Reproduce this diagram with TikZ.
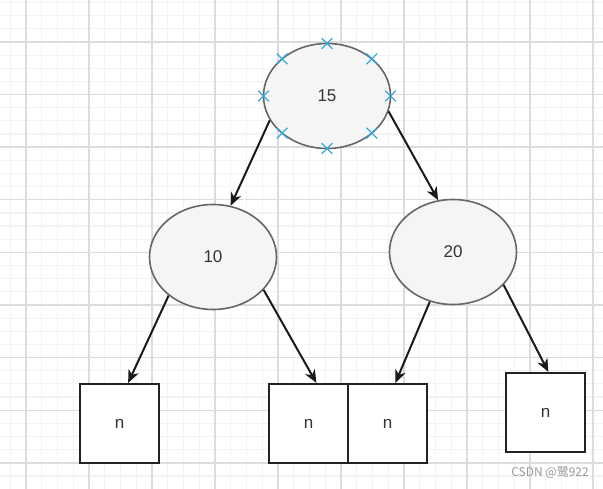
\documentclass[tikz,border=0pt]{standalone}
\usepackage{fontspec}
\setmainfont{Liberation Sans}
\newfontfamily\cjk{Noto Sans CJK SC}
\usepackage{xcolor}
\usetikzlibrary{shapes.geometric, shapes.misc, arrows.meta, positioning}

\definecolor{nodefill}{HTML}{F5F5F5}
\definecolor{nodeline}{HTML}{666666}
\definecolor{boxline}{HTML}{222222}
\definecolor{arrowline}{HTML}{1A1A1A}
\definecolor{textgray}{HTML}{333333}
\definecolor{markblue}{HTML}{3AA8E0}
\definecolor{gridminor}{HTML}{F3F3F3}
\definecolor{gridmajor}{HTML}{DCDCDC}
\definecolor{wmgray}{HTML}{9A9A9A}

\begin{document}
\begin{tikzpicture}[
    x=1pt, y=-1pt,
    treenode/.style={ellipse, draw=nodeline, fill=nodefill, line width=1.6pt, minimum width=127pt, minimum height=105pt, inner sep=0pt, text=textgray, font=\fontsize{17}{20}\selectfont},
    nilbox/.style={rectangle, draw=boxline, fill=white, line width=2.2pt, minimum size=79pt, inner sep=0pt, text=textgray, font=\fontsize{17}{20}\selectfont},
    arrow/.style={line width=2pt, draw=arrowline, -{Stealth[length=13pt, width=11pt, inset=4pt]}},
    xmark/.style={cross out, draw=markblue, line width=1.2pt, minimum size=9.5pt, inner sep=0pt},
    minorline/.style={draw=gridminor, line width=1.2pt},
    majorline/.style={draw=gridmajor, line width=1.4pt}
]
\useasboundingbox (0,0) rectangle (603,489);

% Background grid
\fill[white] (0,0) rectangle (603,489);
\foreach \i in {0,...,38} \draw[minorline] ({-5.5+15.75*\i},0) -- ++(0,489);
\foreach \i in {0,...,38} \draw[minorline] (0,{-10.6+13.15*\i}) -- ++(603,0);
\foreach \i in {0,...,9} \draw[majorline] ({26+63*\i},0) -- ++(0,489);
\foreach \i in {0,...,8} \draw[majorline] (0,{42+52.6*\i}) -- ++(603,0);

% Tree nodes
\node[treenode] (root) at (327,96) {15};
\node[treenode, on grid, below left=161pt and 114pt of root] (lnode) {10};
\node[treenode, on grid, below right=156pt and 126pt of root] (rnode) {20};

% Empty leaves
\node[nilbox, on grid, below left=166.5pt and 93.5pt of lnode] (nil1) {n};
\node[nilbox, on grid, below right=166.5pt and 95.5pt of lnode] (nil2) {n};
\node[nilbox, on grid, right=79pt of nil2] (nil3) {n};
\node[nilbox, on grid, below right=160.5pt and 92.5pt of rnode] (nil4) {n};

% Selection marks
\foreach \t in {0,45,...,315}
  \path (root.center) ++({63.5*cos(\t)},{-52.5*sin(\t)}) node[xmark] (mark\t) {};

% Arrows
\draw[arrow] (root.203) -- (lnode.71);
\draw[arrow] (root.346) -- (rnode.106);
\draw[arrow] (lnode.221) -- (nil1.78);
\draw[arrow] (lnode.327) -- (nil2.79);
\draw[arrow] (rnode.245) -- (nil3.79);
\draw[arrow] (rnode.327) -- (nil4.86);

% Watermark
\node[anchor=east, text=wmgray, font=\cjk\fontsize{12}{14}\selectfont, inner sep=0pt] (watermark) at (589,472) {CSDN @鹭922};

\end{tikzpicture}
\end{document}
